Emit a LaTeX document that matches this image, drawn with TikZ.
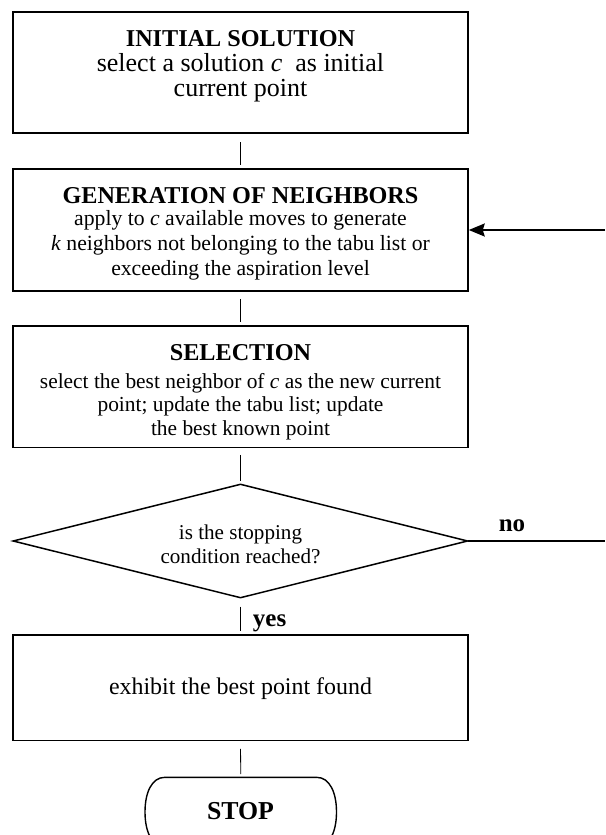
\documentclass[tikz,border=0pt]{standalone}
\usepackage{fontspec}
\setmainfont{Liberation Serif}
\usetikzlibrary{arrows.meta}
\tikzset{
  box/.style={draw, line width=1.5pt, minimum width=455pt, inner sep=0pt},
  conn/.style={line width=0.8pt},
  txt/.style={anchor=base, inner sep=0pt},
  ttl/.style={txt, font=\fontsize{24.2}{28}\selectfont\bfseries},
  lab/.style={txt, font=\fontsize{25}{28}\selectfont\bfseries},
  termline/.style={line width=1.4pt},
}
\newcommand{\fs}[1]{\fontsize{#1}{#1}\selectfont}
\begin{document}
\begin{tikzpicture}[x=1pt,y=-1pt]
\useasboundingbox (0,0) rectangle (605,835);
\clip (0,0) rectangle (605,835);
% boxes
\node[box, minimum height=121pt] (b1) at (240.5,72.5) {};
\node[box, minimum height=122pt] (b2) at (240.5,230) {};
\node[box, minimum height=121.3pt] (b3) at (240.5,386.7) {};
\node[box, minimum height=105.7pt] (b4) at (240.5,687.85) {};
% terminal
\node[minimum width=191.5pt, minimum height=69.4pt, inner sep=0pt] (stop) at (240.75,812) {};
\draw[termline] (165,777.3) -- (316.5,777.3)
  .. controls (330,777.3) and (336.5,793) .. (336.5,812)
  .. controls (336.5,831) and (330,846.7) .. (316.5,846.7)
  -- (165,846.7)
  .. controls (151.5,846.7) and (145,831) .. (145,812)
  .. controls (145,793) and (151.5,777.3) .. (165,777.3) -- cycle;
% diamond
\coordinate (dT) at (240.5,484.3);
\coordinate (dL) at (13.3,541);
\coordinate (dR) at (467.5,541);
\coordinate (dB) at (240.5,597.7);
\draw[line width=1.5pt, line join=miter] (dT) -- (dR) -- (dB) -- (dL) -- cycle;
% texts box 1
\node[ttl] (t1a) at (240.5,46.7) {INITIAL SOLUTION};
\node[txt, font=\fs{26}] (t1b) at (240.5,71) {select a solution \textit{c}\ \ as initial};
\node[txt, font=\fs{26}] (t1c) at (240.5,96.7) {current point};
% texts box 2
\node[ttl] (t2a) at (240.5,203.3) {GENERATION OF NEIGHBORS};
\node[txt, font=\fs{21.7}] (t2b) at (240.5,225) {apply to \textit{c} available moves to generate};
\node[txt, font=\fs{21.7}] (t2c) at (240.5,250) {\textit{k} neighbors not belonging to the tabu list or};
\node[txt, font=\fs{21.7}] (t2d) at (240.5,275) {exceeding the aspiration level};
% texts box 3
\node[ttl] (t3a) at (240.5,360) {SELECTION};
\node[txt, font=\fs{21.4}] (t3b) at (240.5,388) {select the best neighbor of \textit{c} as the new current};
\node[txt, font=\fs{21.4}] (t3c) at (240.5,411.5) {point; update the tabu list; update};
\node[txt, font=\fs{21.4}] (t3d) at (240.5,435) {the best known point};
% diamond text
\node[txt, font=\fs{21.1}] (td1) at (240.5,539) {is the stopping};
\node[txt, font=\fs{21.1}] (td2) at (240.5,563) {condition reached?};
% box 4 text
\node[txt, font=\fs{23.9}] (t4) at (240.5,694) {exhibit the best point found};
% stop text
\node[txt, font=\fs{25.8}\bfseries] (tstop) at (240.5,819.3) {STOP};
% labels
\node[lab, anchor=base west] (yes) at (252.7,626.7) {yes};
\node[lab] (no) at (512,531.7) {no};
% connectors
\draw[conn, shorten <=8.7pt, shorten >=3.3pt] (b1.south) -- (b2.north);
\draw[conn, shorten <=7pt, shorten >=3.3pt] (b2.south) -- (b3.north);
\draw[conn, shorten <=6.7pt, shorten >=3.6pt] (b3.south) -- (dT);
\draw[conn, shorten <=9pt, shorten >=3.3pt] (dB) -- (b4.north);
\draw[conn, shorten <=7.3pt, shorten >=3pt] (b4.south) -- (stop.north);
\coordinate (rin) at (605,230);
\coordinate (rout) at (605,541);
\draw[line width=2pt, -{Stealth[length=16pt,width=13pt,inset=2pt]}] (rin) -- (b2.east);
\draw[line width=1.5pt] (dR) -- (rout);
\end{tikzpicture}
\end{document}
